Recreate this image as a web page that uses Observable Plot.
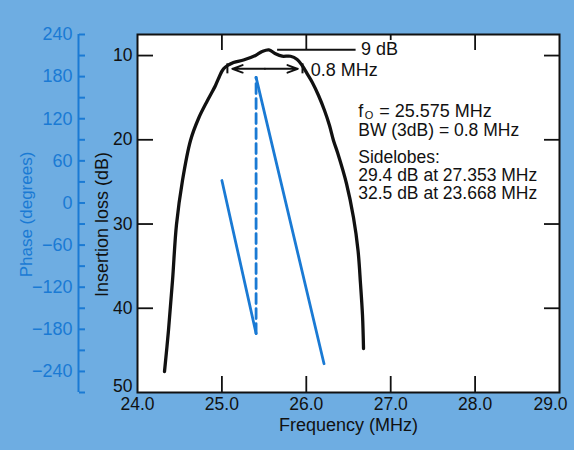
<!DOCTYPE html>
<html><head><meta charset="utf-8">
<script src="https://cdn.jsdelivr.net/npm/d3@7"></script>
<script src="https://cdn.jsdelivr.net/npm/@observablehq/plot@0.6"></script>
<style>
html,body{margin:0;padding:0;background:#6eade2;}
#chart{width:574px;height:450px;}
svg{display:block;}
</style></head><body><div id="chart"></div>
<script>
// ---- data ----
const freqTicks = [24, 25, 26, 27, 28];
const freqLastTick = [29];
const freqInnerTicks = [25, 26, 27, 28];
const lossTicks = [10, 20, 30, 40];
const lossLastTick = [50];
const phaseTicks = [240, 210, 180, 150, 120, 90, 60, 30, 0, -30, -60, -90, -120, -150, -180, -210, -240, -270];
const phaseLabels = [240, 180, 120, 60, 0, -60, -120, -180, -240];

// insertion loss (dB) vs frequency (MHz)
const lossFreq = [24.320, 24.367, 24.415, 24.462, 24.533, 24.628, 24.723, 24.829, 24.924, 24.960, 25.019, 25.137, 25.256, 25.398, 25.477, 25.556, 25.635, 25.714, 25.813, 25.892, 25.951, 26.011, 26.070, 26.145, 26.216, 26.275, 26.322, 26.370, 26.476, 26.559, 26.613, 26.642, 26.666, 26.678];
const lossDb   = [47.51, 42.64, 36.70, 30.06, 24.83, 20.08, 17.47, 15.34, 13.55, 12.72, 11.57, 10.82, 10.53, 9.99, 9.52, 9.32, 9.79, 10.08, 10.08, 10.47, 11.18, 12.17, 13.16, 14.74, 16.52, 18.30, 20.08, 21.51, 25.19, 29.23, 33.14, 37.06, 40.86, 44.78];

// phase (degrees) vs frequency (MHz)
const phase1Freq = [25.0, 25.405];
const phase1Deg  = [32, -186];
const phase2Freq = [25.405, 26.21];
const phase2Deg  = [179, -229];
const wrapFreq = [25.405, 25.405];
const wrapDeg  = [-186, 179];

// ---- layout ----
const W = 574, H = 450;
const mL = 137, mR = 15, mT = 34, mB = 58;
const plotW = W - mL - mR, plotH = H - mT - mB;
const phaseAxisX = 78;
const blue = "#1a7ad4";
const ink = "#111";

const freqDomain = [24, 29];
const lossDomain = [7.5, 50];
const phaseDomain = [240, -270];
const toLoss = d3.scaleLinear().domain(phaseDomain).range(lossDomain);
const fmtPhase = p => p < 0 ? "\u2212" + Math.abs(p) : String(p);

const lossData = lossFreq.map((f, i) => ({f, v: lossDb[i]}));
const ph1 = phase1Freq.map((f, i) => ({f, v: toLoss(phase1Deg[i])}));
const ph2 = phase2Freq.map((f, i) => ({f, v: toLoss(phase2Deg[i])}));
const wrap = wrapFreq.map((f, i) => ({f, v: toLoss(wrapDeg[i])}));

const txt = (t, x, y, o = {}) => Plot.text([{t, x, y}], {x: "x", y: "y", text: "t", textAnchor: "start", lineAnchor: "middle", fontSize: 18, fill: ink, ...o});

const chart = Plot.plot({
  width: W, height: H,
  marginLeft: mL, marginRight: mR, marginTop: mT, marginBottom: mB,
  style: {fontFamily: "'Liberation Sans', Arial, Helvetica, sans-serif", background: "transparent", color: ink, overflow: "visible"},
  x: {domain: freqDomain, axis: null},
  y: {domain: lossDomain, reverse: true, axis: null},
  marks: [
    Plot.frame({fill: "white", stroke: null}),
    // inner ticks
    Plot.axisX(freqInnerTicks, {anchor: "top", dy: plotH, tickSize: 17, tickFormat: () => "", label: null, stroke: ink, strokeWidth: 1.8}),
    Plot.axisX(freqInnerTicks, {anchor: "bottom", dy: -plotH, tickSize: 16, tickFormat: () => "", label: null, stroke: ink, strokeWidth: 1.8}),
    Plot.axisY(lossTicks, {anchor: "right", dx: -plotW, tickSize: 15, tickFormat: () => "", label: null, stroke: ink, strokeWidth: 1.8}),
    Plot.axisY(lossTicks, {anchor: "left", dx: plotW, tickSize: 15, tickFormat: () => "", label: null, stroke: ink, strokeWidth: 1.8}),
    // tick labels
    Plot.axisX(freqTicks, {anchor: "bottom", tickSize: 0, tickPadding: 5, tickFormat: d => d.toFixed(1), label: null, fontSize: 17.5, fill: ink}),
    Plot.axisX(freqLastTick, {anchor: "bottom", tickSize: 0, tickPadding: 5, dx: -9, tickFormat: d => d.toFixed(1), label: null, fontSize: 17.5, fill: ink}),
    Plot.axisY(lossTicks, {anchor: "left", tickSize: 0, tickPadding: 5, label: null, fontSize: 17.5, fill: ink}),
    Plot.axisY(lossLastTick, {anchor: "left", tickSize: 0, tickPadding: 5, dy: -6, label: null, fontSize: 17.5, fill: ink}),
    // phase axis
    Plot.ruleX([freqDomain[0]], {y1: lossDomain[0], y2: lossDomain[1], dx: phaseAxisX - mL, stroke: blue, strokeWidth: 2}),
    Plot.axisY(phaseTicks.map(toLoss), {anchor: "right", dx: phaseAxisX - (W - mR), tickSize: 6, tickFormat: () => "", label: null, stroke: blue, strokeWidth: 2}),
    Plot.axisY(phaseLabels.map(toLoss), {anchor: "left", dx: phaseAxisX - mL, tickSize: 0, tickPadding: 6, tickFormat: v => fmtPhase(Math.round(toLoss.invert(v))), label: null, fontSize: 18, fill: blue}),
    // axis titles
    Plot.text(["Frequency (MHz)"], {frameAnchor: "bottom", textAnchor: "middle", lineAnchor: "middle", dy: 33, fontSize: 18, fill: ink}),
    Plot.text(["Insertion loss (dB)"], {frameAnchor: "left", textAnchor: "middle", lineAnchor: "middle", rotate: -90, dx: -35, dy: 11, fontSize: 18, fill: ink}),
    Plot.text(["Phase (degrees)"], {frameAnchor: "left", textAnchor: "middle", lineAnchor: "middle", rotate: -90, dx: -111, dy: 1, fontSize: 17, fill: blue}),
    // phase curves
    Plot.line(ph1, {x: "f", y: "v", stroke: blue, strokeWidth: 2.8}),
    Plot.line(ph2, {x: "f", y: "v", stroke: blue, strokeWidth: 2.8}),
    Plot.line(wrap, {x: "f", y: "v", stroke: blue, strokeWidth: 2.8, strokeDasharray: "10,5"}),
    // insertion loss
    Plot.line(lossData, {x: "f", y: "v", stroke: ink, strokeWidth: 3.3, curve: "catmull-rom"}),
    // annotations
    Plot.ruleY([9.3], {x1: 25.66, x2: 26.59, stroke: ink, strokeWidth: 2}),
    txt("9 dB", 26.647, 9.2, {stroke: "white", strokeWidth: 4, paintOrder: "stroke"}),
    Plot.ruleX([25.065, 25.955], {y1: 10.98, y2: 12.17, stroke: ink, strokeWidth: 2}),
    Plot.arrow([{a: 25.51, b: 25.124}, {a: 25.51, b: 25.899}], {x1: "a", x2: "b", y1: 11.58, y2: 11.58, headAngle: 40, headLength: 12, stroke: ink, strokeWidth: 2}),
    txt("0.8 MHz", 26.053, 11.78),
    txt("f", 26.615, 16.64),
    txt("O", 26.615, 17.12, {fontSize: 11, dx: 6.5}),
    txt("= 25.575 MHz", 26.615, 16.64, {dx: 21}),
    txt("BW (3dB) = 0.8 MHz", 26.615, 18.93, {fontSize: 17.5}),
    txt("Sidelobes:", 26.615, 22.06, {fontSize: 17.5}),
    txt("29.4 dB at 27.353 MHz", 26.615, 24.2, {fontSize: 17.5}),
    txt("32.5 dB at 23.668 MHz", 26.615, 26.37, {fontSize: 17.5}),
    Plot.frame({stroke: ink, strokeWidth: 2})
  ]
});
document.getElementById("chart").append(chart);
</script>
</body></html>
